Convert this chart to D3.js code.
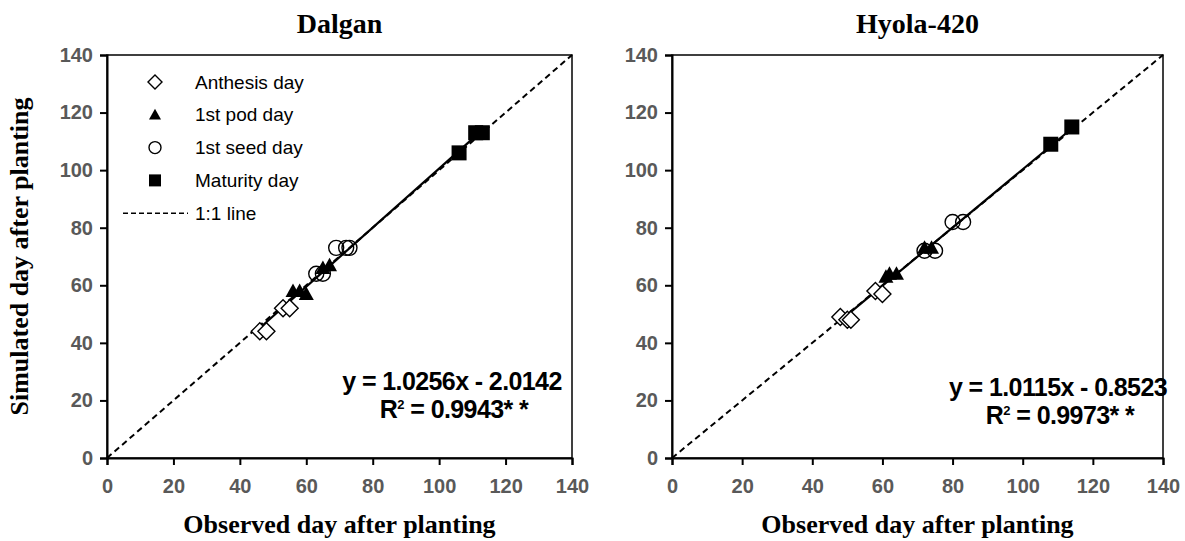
<!DOCTYPE html>
<html>
<head>
<meta charset="utf-8">
<script src="https://cdn.jsdelivr.net/npm/d3@7"></script>
<style>
  body { margin: 0; background: #fff; }
  svg { display: block; }
</style>
</head>
<body>
<script>
// values: [observed, simulated]
var dalganAnthesis = [[46, 44], [48, 44], [53, 52], [55, 52]];
var dalganPod      = [[56, 58], [58, 58], [60, 57], [65, 66], [67, 67]];
var dalganSeed     = [[63, 64], [65, 64], [69, 73], [72, 73], [73, 73]];
var dalganMaturity = [[106, 106], [111, 113], [113, 113]];

var hyolaAnthesis = [[48, 49], [50, 48], [51, 48], [58, 58], [60, 57]];
var hyolaPod      = [[61, 63], [62, 64], [64, 64], [72, 73], [74, 73]];
var hyolaSeed     = [[72, 72], [75, 72], [80, 82], [83, 82]];
var hyolaMaturity = [[108, 109], [114, 115]];

var tickValues = [0, 20, 40, 60, 80, 100, 120, 140];
var legendLabels = ["Anthesis day", "1st pod day", "1st seed day", "Maturity day", "1:1 line"];

var panels = [
  { title: "Dalgan", left: 107, right: 572, slope: 1.0256, icpt: -2.0142,
    eq: "y = 1.0256x - 2.0142", r2: "0.9943", eqX: 452, eqY: 390,
    sets: [dalganAnthesis, dalganPod, dalganSeed, dalganMaturity], legend: true, ytitle: true },
  { title: "Hyola-420", left: 672, right: 1163, slope: 1.0115, icpt: -0.8523,
    eq: "y = 1.0115x - 0.8523", r2: "0.9973", eqX: 1058, eqY: 396,
    sets: [hyolaAnthesis, hyolaPod, hyolaSeed, hyolaMaturity], legend: false, ytitle: false }
];

var plotTop = 55, plotBottom = 458;
var svg = d3.select("body").append("svg").attr("width", 1185).attr("height", 541);

var kinds = ["diamond", "triangle", "circle", "square"];

function drawMarker(g, kind, x, y, s) {
  if (kind == "diamond") {
    s = s + 1;
    g.append("path").attr("d", "M" + x + "," + (y - s) + "L" + (x + s) + "," + y + "L" + x + "," + (y + s) + "L" + (x - s) + "," + y + "Z")
      .attr("fill", "#fff").attr("stroke", "#000").attr("stroke-width", 1.4);
  } else if (kind == "triangle") {
    g.append("path").attr("d", "M" + x + "," + (y - s) + "L" + (x + s) + "," + (y + s * 0.8) + "L" + (x - s) + "," + (y + s * 0.8) + "Z")
      .attr("fill", "#000");
  } else if (kind == "circle") {
    g.append("circle").attr("cx", x).attr("cy", y).attr("r", s)
      .attr("fill", "none").attr("stroke", "#000").attr("stroke-width", 1.4);
  } else {
    g.append("rect").attr("x", x - s).attr("y", y - s).attr("width", 2 * s).attr("height", 2 * s).attr("fill", "#000");
  }
}

panels.forEach(function(p) {
  var x = d3.scaleLinear().domain([0, 140]).range([p.left, p.right]);
  var y = d3.scaleLinear().domain([0, 140]).range([plotBottom, plotTop]);
  var g = svg.append("g");

  // box
  g.append("rect").attr("x", p.left).attr("y", plotTop).attr("width", p.right - p.left).attr("height", plotBottom - plotTop)
    .attr("fill", "none").attr("stroke", "#000").attr("stroke-width", 1.5);

  var xAxis = g.append("g").attr("transform", "translate(0," + plotBottom + ")")
    .call(d3.axisBottom(x).tickValues(tickValues).tickSize(7).tickPadding(14));
  var yAxis = g.append("g").attr("transform", "translate(" + p.left + ",0)")
    .call(d3.axisLeft(y).tickValues(tickValues).tickSize(7).tickPadding(7));
  [xAxis, yAxis].forEach(function(a) {
    a.select(".domain").attr("stroke-width", 2);
    a.selectAll(".tick line").attr("stroke-width", 2);
    a.selectAll(".tick text").attr("fill", "#595959").style("font-family", "Liberation Sans, Arial, sans-serif")
      .style("font-size", "20px").style("font-weight", "bold");
  });

  // 1:1 line
  g.append("line").attr("x1", x(0)).attr("y1", y(0)).attr("x2", x(140)).attr("y2", y(140))
    .attr("stroke", "#000").attr("stroke-width", 2).attr("stroke-dasharray", "6,4");

  // regression line over observed range
  var all = d3.merge(p.sets);
  var xmin = d3.min(all, function(d) { return d[0]; }), xmax = d3.max(all, function(d) { return d[0]; });
  g.append("line").attr("x1", x(xmin)).attr("y1", y(p.slope * xmin + p.icpt))
    .attr("x2", x(xmax)).attr("y2", y(p.slope * xmax + p.icpt))
    .attr("stroke", "#000").attr("stroke-width", 2.2);

  p.sets.forEach(function(set, i) {
    set.forEach(function(d) { drawMarker(g, kinds[i], x(d[0]), y(d[1]), 7.5); });
  });

  // titles
  g.append("text").attr("x", (p.left + p.right) / 2).attr("y", 33).attr("text-anchor", "middle")
    .style("font-family", "Liberation Serif, Times New Roman, serif").style("font-weight", "bold").style("font-size", "28px")
    .text(p.title);
  g.append("text").attr("x", (p.left + p.right) / 2).attr("y", 533).attr("text-anchor", "middle")
    .style("font-family", "Liberation Serif, Times New Roman, serif").style("font-weight", "bold").style("font-size", "26px")
    .text("Observed day after planting");
  if (p.ytitle) {
    g.append("text").attr("transform", "translate(28," + ((plotTop + plotBottom) / 2) + ") rotate(-90)").attr("text-anchor", "middle")
      .style("font-family", "Liberation Serif, Times New Roman, serif").style("font-weight", "bold").style("font-size", "26px")
      .text("Simulated day after planting");
  }

  // equation
  var eqs = g.append("g").style("font-family", "Liberation Sans, Arial, sans-serif")
    .style("font-weight", "bold").style("font-size", "25px").style("letter-spacing", "-0.6px").attr("text-anchor", "middle");
  eqs.append("text").attr("x", p.eqX).attr("y", p.eqY).text(p.eq);
  var r = eqs.append("text").attr("x", p.eqX + 2).attr("y", p.eqY + 28);
  r.append("tspan").text("R");
  r.append("tspan").attr("font-size", "13px").attr("dy", -9).text("2");
  r.append("tspan").attr("dy", 9).text(" = " + p.r2 + "* *");

  if (p.legend) {
    var lg = g.append("g").style("font-family", "Liberation Sans, Arial, sans-serif").style("font-size", "19px");
    legendLabels.forEach(function(lab, i) {
      var ly = 82 + i * 32.8;
      if (i < 4) drawMarker(lg, kinds[i], 155, ly, 6);
      else lg.append("line").attr("x1", 123).attr("x2", 188).attr("y1", ly).attr("y2", ly)
        .attr("stroke", "#000").attr("stroke-width", 1.6).attr("stroke-dasharray", "5,3");
      lg.append("text").attr("x", 195).attr("y", ly).attr("dy", "0.35em").text(lab);
    });
  }
});
</script>
</body>
</html>
